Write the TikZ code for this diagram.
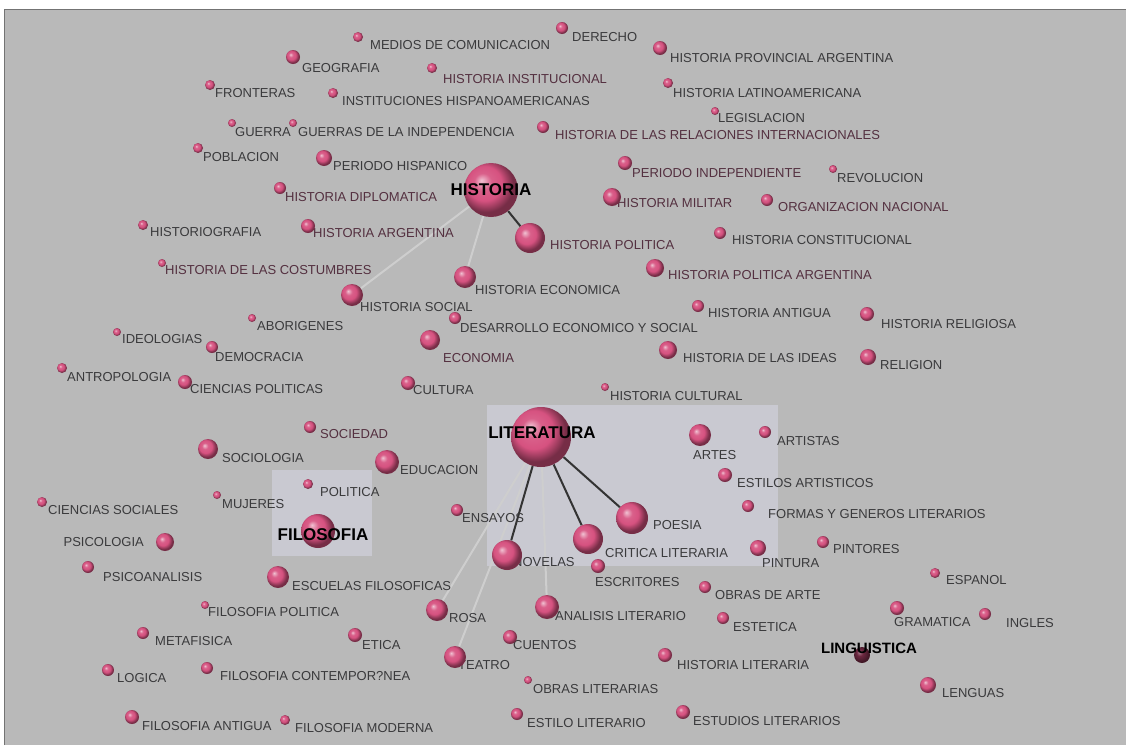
\documentclass[tikz,border=0pt]{standalone}
\usepackage{fontspec}
\setmainfont{Liberation Sans}
\definecolor{pk}{RGB}{214,82,128}
\definecolor{pkd}{RGB}{110,40,65}
\definecolor{bgg}{RGB}{185,185,185}
\definecolor{pan}{RGB}{201,201,209}
\definecolor{lg}{RGB}{58,58,60}
\definecolor{lm}{RGB}{84,48,64}
\definecolor{lln}{RGB}{206,206,206}
\pgfdeclareradialshading{pball}{\pgfqpoint{-9bp}{9bp}}{color(0bp)=(pk!35!white); color(8bp)=(pk!92!white); color(16bp)=(pk); color(25bp)=(pk!55!black); color(50bp)=(pk!55!black)}
\pgfdeclareradialshading{dball}{\pgfqpoint{-9bp}{9bp}}{color(0bp)=(pkd!60!white); color(10bp)=(pkd); color(25bp)=(pkd!60!black); color(50bp)=(pkd!60!black)}
\pgfdeclarelayer{back}
\pgfdeclarelayer{edges}
\pgfdeclarelayer{labels}
\pgfdeclarelayer{top}
\pgfsetlayers{back,edges,labels,main,top}
\tikzset{
  sph/.style={circle,inner sep=0pt,shading=pball},
  lbl/.style={anchor=west,inner sep=0pt,font=\fontsize{13}{13}\selectfont,text=lg},
  lblm/.style={lbl,text=lm},
  hub/.style={inner sep=0pt,font=\fontsize{17}{17}\selectfont\bfseries,text=black},
  dk/.style={draw=black!80,line width=2pt},
  lt/.style={draw=lln,line width=2pt}
}
\newcommand\tp[8]{\node[sph,minimum size={2*#4pt}] (#1) at (#2,#3) {};
  \begin{pgfonlayer}{labels}\node[#8] (#1l) at (#6,#7) {#5};\end{pgfonlayer}}
\newcommand\hb[8]{\node[sph,minimum size={2*#4pt}] (#1) at (#2,#3) {};
  \begin{pgfonlayer}{top}\node[hub,font=\fontsize{#8}{#8}\selectfont\bfseries] (#1l) at (#6,#7) {#5};\end{pgfonlayer}}
\begin{document}
\begin{tikzpicture}[x=1pt,y=-1pt]
\useasboundingbox (0,0) rectangle (1126,745);
\begin{pgfonlayer}{back}
  \fill[white] (0,0) rectangle (1126,745);
  \fill[bgg] (4,9) rectangle (1126,745);
  \fill[pan] (487,405) rectangle (778,566);
  \fill[pan] (272,470) rectangle (372,556);
  \draw[black!55,line width=1pt] (4,745) -- (4,9) -- (1126,9);
\end{pgfonlayer}
% hubs
\hb{his}{491}{190}{27}{HISTORIA}{491}{190}{17}
\hb{lit}{541}{437}{30}{LITERATURA}{542}{433}{17}
\hb{filo}{318}{531}{17}{FILOSOFIA}{323}{535}{17}
\node[circle,inner sep=0pt,shading=dball,minimum size=16pt] (ling) at (862,655) {};
\begin{pgfonlayer}{top}\node[hub,font=\fontsize{15}{15}\selectfont\bfseries] (lingl) at (869,648) {LINGUISTICA};\end{pgfonlayer}
% topics
\tp{med}{358}{37}{5}{MEDIOS DE COMUNICACION}{370}{45}{lbl}
\tp{der}{562}{28}{6}{DERECHO}{572}{37}{lbl}
\tp{geo}{293}{57}{7}{GEOGRAFIA}{302}{68}{lbl}
\tp{hinst}{432}{68}{5}{HISTORIA INSTITUCIONAL}{443}{79}{lblm}
\tp{hprov}{660}{48}{7}{HISTORIA PROVINCIAL ARGENTINA}{670}{58}{lbl}
\tp{fron}{210}{85}{5}{FRONTERAS}{215}{93}{lbl}
\tp{insth}{333}{93}{5}{INSTITUCIONES HISPANOAMERICANAS}{342}{101}{lbl}
\tp{hlat}{668}{83}{5}{HISTORIA LATINOAMERICANA}{673}{93}{lbl}
\tp{legis}{715}{111}{4}{LEGISLACION}{718}{118}{lbl}
\tp{guerra}{232}{123}{4}{GUERRA}{235}{132}{lbl}
\tp{guind}{293}{123}{4}{GUERRAS DE LA INDEPENDENCIA}{298}{132}{lbl}
\tp{hrel}{543}{127}{6}{HISTORIA DE LAS RELACIONES INTERNACIONALES}{555}{135}{lblm}
\tp{pobl}{198}{148}{5}{POBLACION}{203}{157}{lbl}
\tp{phisp}{324}{158}{8}{PERIODO HISPANICO}{333}{166}{lbl}
\tp{pind}{625}{163}{7}{PERIODO INDEPENDIENTE}{632}{173}{lblm}
\tp{revol}{833}{169}{4}{REVOLUCION}{837}{178}{lbl}
\tp{hdipl}{280}{188}{6}{HISTORIA DIPLOMATICA}{285}{197}{lblm}
\tp{hmil}{612}{197}{9}{HISTORIA MILITAR}{617}{203}{lblm}
\tp{orgn}{767}{200}{6}{ORGANIZACION NACIONAL}{778}{207}{lblm}
\tp{hgraf}{143}{225}{5}{HISTORIOGRAFIA}{150}{232}{lbl}
\tp{harg}{308}{226}{7}{HISTORIA ARGENTINA}{313}{233}{lblm}
\tp{hpol}{530}{238}{15}{HISTORIA POLITICA}{550}{245}{lblm}
\tp{hconst}{720}{233}{6}{HISTORIA CONSTITUCIONAL}{732}{240}{lbl}
\tp{hcost}{162}{263}{4}{HISTORIA DE LAS COSTUMBRES}{165}{270}{lblm}
\tp{hpolarg}{655}{268}{9}{HISTORIA POLITICA ARGENTINA}{668}{275}{lblm}
\tp{heco}{465}{277}{11}{HISTORIA ECONOMICA}{475}{290}{lbl}
\tp{hsoc}{352}{295}{11}{HISTORIA SOCIAL}{360}{307}{lbl}
\tp{hant}{698}{306}{6}{HISTORIA ANTIGUA}{708}{313}{lbl}
\tp{hrelig}{867}{314}{7}{HISTORIA RELIGIOSA}{881}{324}{lbl}
\tp{abor}{252}{318}{4}{ABORIGENES}{257}{326}{lbl}
\tp{desa}{455}{318}{6}{DESARROLLO ECONOMICO Y SOCIAL}{460}{328}{lbl}
\tp{ideo}{117}{332}{4}{IDEOLOGIAS}{122}{339}{lbl}
\tp{econ}{430}{340}{10}{ECONOMIA}{443}{358}{lblm}
\tp{demo}{212}{347}{6}{DEMOCRACIA}{215}{357}{lbl}
\tp{hideas}{668}{350}{9}{HISTORIA DE LAS IDEAS}{683}{358}{lbl}
\tp{relig}{868}{357}{8}{RELIGION}{880}{365}{lbl}
\tp{antro}{62}{368}{5}{ANTROPOLOGIA}{67}{377}{lbl}
\tp{cpol}{185}{382}{7}{CIENCIAS POLITICAS}{190}{389}{lbl}
\tp{cult}{408}{383}{7}{CULTURA}{413}{390}{lbl}
\tp{hcult}{605}{387}{4}{HISTORIA CULTURAL}{610}{396}{lbl}
\tp{soc}{310}{427}{6}{SOCIEDAD}{320}{434}{lblm}
\tp{artes}{700}{435}{11}{ARTES}{693}{455}{lbl}
\tp{artis}{765}{432}{6}{ARTISTAS}{777}{441}{lbl}
\tp{sociol}{208}{449}{10}{SOCIOLOGIA}{222}{458}{lbl}
\tp{educ}{387}{462}{12}{EDUCACION}{400}{470}{lbl}
\tp{estart}{725}{475}{7}{ESTILOS ARTISTICOS}{737}{483}{lbl}
\tp{polit}{308}{484}{5}{POLITICA}{320}{492}{lbl}
\tp{csoc}{42}{502}{5}{CIENCIAS SOCIALES}{48}{510}{lbl}
\tp{muj}{217}{495}{4}{MUJERES}{222}{504}{lbl}
\tp{ensa}{457}{510}{6}{ENSAYOS}{462}{518}{lbl}
\tp{poe}{632}{518}{16}{POESIA}{653}{525}{lbl}
\tp{formas}{748}{506}{6}{FORMAS Y GENEROS LITERARIOS}{768}{514}{lbl}
\tp{psico}{165}{542}{9}{PSICOLOGIA}{144}{542}{lbl,anchor=east}
\tp{crit}{588}{539}{15}{CRITICA LITERARIA}{605}{553}{lbl}
\tp{nov}{507}{555}{15}{NOVELAS}{513}{562}{lbl}
\tp{pint}{758}{548}{8}{PINTURA}{762}{563}{lbl}
\tp{pintores}{823}{542}{6}{PINTORES}{833}{549}{lbl}
\tp{psican}{88}{567}{6}{PSICOANALISIS}{103}{577}{lbl}
\tp{escr}{598}{566}{7}{ESCRITORES}{595}{582}{lbl}
\tp{escfil}{278}{577}{11}{ESCUELAS FILOSOFICAS}{292}{586}{lbl}
\tp{obart}{705}{587}{6}{OBRAS DE ARTE}{715}{595}{lbl}
\tp{esp}{935}{573}{5}{ESPANOL}{946}{580}{lbl}
\tp{filpol}{205}{605}{4}{FILOSOFIA POLITICA}{208}{612}{lbl}
\tp{prosa}{437}{610}{11}{ROSA}{449}{618}{lbl}
\tp{metaf}{143}{633}{6}{METAFISICA}{155}{641}{lbl}
\tp{etica}{355}{635}{7}{ETICA}{362}{645}{lbl}
\tp{anal}{547}{607}{12}{ANALISIS LITERARIO}{555}{616}{lbl}
\tp{estet}{723}{618}{6}{ESTETICA}{733}{627}{lbl}
\tp{gram}{897}{608}{7}{GRAMATICA}{894}{622}{lbl}
\tp{ingl}{985}{614}{6}{INGLES}{1006}{623}{lbl}
\tp{cuen}{510}{637}{7}{CUENTOS}{513}{645}{lbl}
\tp{filcon}{207}{668}{6}{FILOSOFIA CONTEMPOR?NEA}{220}{676}{lbl}
\tp{logi}{108}{670}{6}{LOGICA}{117}{678}{lbl}
\tp{teat}{455}{657}{11}{TEATRO}{458}{665}{lbl}
\tp{hlit}{665}{655}{7}{HISTORIA LITERARIA}{677}{665}{lbl}
\tp{oblit}{528}{680}{4}{OBRAS LITERARIAS}{533}{689}{lbl}
\tp{leng}{928}{685}{8}{LENGUAS}{942}{693}{lbl}
\tp{filant}{132}{717}{7}{FILOSOFIA ANTIGUA}{142}{726}{lbl}
\tp{filmod}{285}{720}{5}{FILOSOFIA MODERNA}{295}{728}{lbl}
\tp{estlit}{517}{714}{6}{ESTILO LITERARIO}{527}{723}{lbl}
\tp{estud}{683}{712}{7}{ESTUDIOS LITERARIOS}{693}{721}{lbl}
% connectors
\begin{pgfonlayer}{edges}
  \draw[dk] (his) -- (hpol);
  \draw[lt] (his) -- (hsoc);
  \draw[lt] (his) -- (heco);
  \draw[dk] (lit) -- (nov);
  \draw[dk] (lit) -- (crit);
  \draw[dk] (lit) -- (poe);
  \draw[lt] (lit) -- (prosa);
  \draw[lt] (lit) -- (anal);
  \draw[lt] (lit) -- (teat);
\end{pgfonlayer}
\end{tikzpicture}
\end{document}
